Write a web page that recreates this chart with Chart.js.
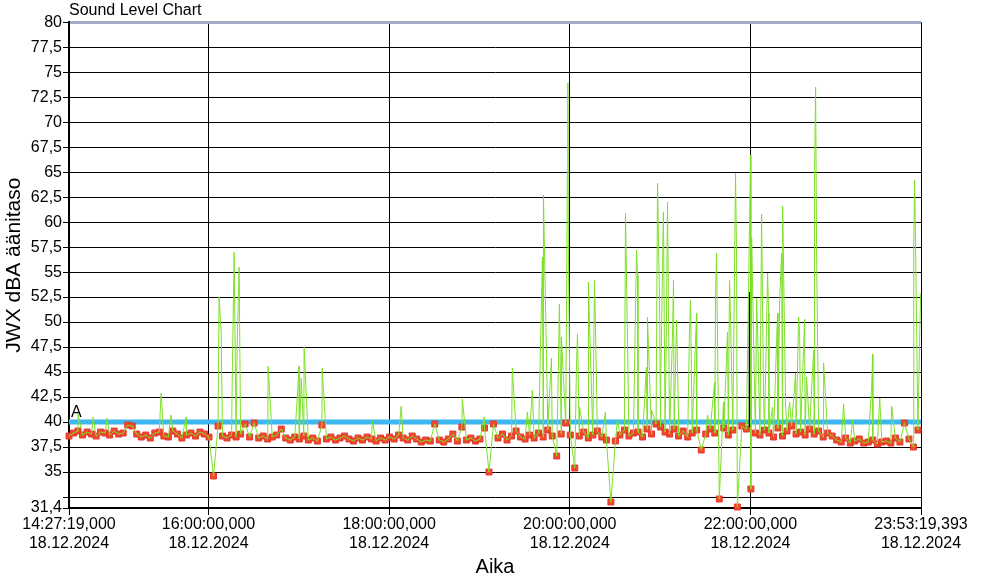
<!DOCTYPE html>
<html>
<head>
<meta charset="utf-8">
<script src="https://cdn.jsdelivr.net/npm/chart.js@4.4.1/dist/chart.umd.min.js"></script>
<style>
  html, body { margin: 0; padding: 0; background: #fff; }
  #wrap { width: 990px; height: 588px; }
</style>
</head>
<body>
<div id="wrap"><canvas id="sound-chart"></canvas></div>
<script>
const chart_title = "Sound Level Chart"
const y_title = "JWX dBA äänitaso"
const x_title = "Aika"

// x positions are minutes counted from 14:27:19,000
const x_tick_minutes = [0, 92.6833, 212.6833, 332.6833, 452.6833, 566.0066]
const x_tick_labels = [
  ["14:27:19,000", "18.12.2024"],
  ["16:00:00,000", "18.12.2024"],
  ["18:00:00,000", "18.12.2024"],
  ["20:00:00,000", "18.12.2024"],
  ["22:00:00,000", "18.12.2024"],
  ["23:53:19,393", "18.12.2024"]
]

const y_tick_values = [31.4, 32.5, 35, 37.5, 40, 42.5, 45, 47.5, 50, 52.5, 55, 57.5, 60, 62.5, 65, 67.5, 70, 72.5, 75, 77.5, 80]
const y_tick_labels = ["31,4", "", "35", "37,5", "40", "42,5", "45", "47,5", "50", "52,5", "55", "57,5", "60", "62,5", "65", "67,5", "70", "72,5", "75", "77,5", "80"]

const limit_level = 40
const limit_label = "A"

// red squares, one sample every 3 minutes
const sample_step = 3
const sample_levels = [
  38.6, 38.9, 39.1, 38.7, 39.0, 38.8, 38.6, 39.0, 38.9, 38.7,
  39.1, 38.8, 38.9, 39.7, 39.6, 38.8, 38.5, 38.7, 38.4, 38.9,
  39.0, 38.6, 38.5, 39.1, 38.8, 38.4, 38.7, 38.9, 38.6, 39.0,
  38.8, 38.5, 34.6, 39.6, 38.6, 38.4, 38.7, 38.5, 38.8, 39.8,
  38.5, 39.9, 38.4, 38.6, 38.3, 38.5, 38.7, 39.3, 38.4, 38.2,
  38.5, 38.3, 38.6, 38.2, 38.4, 38.1, 39.7, 38.3, 38.5, 38.2,
  38.4, 38.6, 38.3, 38.1, 38.4, 38.2, 38.5, 38.3, 38.1, 38.4,
  38.2, 38.5, 38.3, 38.7, 38.4, 38.2, 38.6, 38.3, 38.0, 38.2,
  38.1, 39.8, 38.2, 38.0, 38.3, 38.8, 38.1, 39.5, 38.2, 38.4,
  38.1, 38.3, 39.4, 35.0, 39.8, 38.4, 38.8, 38.2, 38.6, 39.1,
  38.5, 38.3, 38.7, 38.4, 38.9, 38.5, 39.2, 38.6, 36.6, 38.8,
  39.9, 38.7, 35.4, 38.6, 39.0, 38.4, 38.7, 39.1, 38.5, 38.2,
  32.0, 38.1, 38.7, 39.2, 38.6, 38.9, 39.0, 38.5, 39.3, 38.8,
  39.8, 39.5, 39.0, 38.8, 39.3, 38.6, 39.1, 38.5, 38.9, 39.2,
  37.2, 38.8, 39.3, 38.9, 32.3, 39.4, 38.7, 39.2, 31.5, 39.6,
  39.3, 33.3, 38.9, 38.7, 39.2, 38.9, 38.5, 39.4, 38.6, 39.1,
  39.6, 38.8, 39.0, 38.7, 39.3, 38.8, 39.1, 38.5, 38.9, 38.6,
  38.2, 38.0, 38.4, 37.9, 38.1, 38.3, 37.9, 38.0, 38.2, 37.8,
  38.0, 38.1, 37.9, 38.4, 38.0, 39.9, 38.3, 37.5, 39.2
]

// green trace peaks between the samples
const peak_minutes = [
  6.0, 16.0, 25.3, 61.2, 67.8, 77.8, 99.7, 101.1, 108.4, 109.7, 111.7, 113.0, 132.3,
  152.9, 154.3, 156.2, 168.2, 201.5, 220.7, 261.3, 275.9,
  294.5, 304.5, 307.8, 314.5, 315.2, 317.8, 320.5, 325.1, 325.8, 327.1,
  331.1, 331.4, 331.8, 337.1, 337.8, 339.1, 345.1, 345.7, 349.1, 349.7,
  356.4, 364.4, 369.7, 370.3, 377.0, 377.7, 383.6, 384.3, 387.0, 391.0,
  391.6, 392.3, 393.0, 394.3, 394.9, 396.9, 397.6, 400.9, 401.6, 403.6,
  404.9, 412.2, 412.9, 416.9, 424.2,
  428.9, 429.5, 430.2, 434.8, 437.5, 438.8, 439.5, 442.8, 443.5, 452.8,
  453.5, 456.8, 457.4, 460.1, 461.4, 464.1, 464.8, 467.4, 470.7, 472.1,
  473.4, 474.1, 476.1, 478.7, 482.7, 484.7, 485.4, 488.7, 490.0, 494.7,
  495.3, 496.0, 496.7, 501.3, 514.6, 520.6, 533.2, 533.9, 538.6, 546.5,
  561.2, 561.8, 565.2, 565.8
]
const peak_levels = [
  40.8, 40.5, 40.4, 42.9, 40.7, 40.5, 52.5, 48.9, 43.9, 57.0, 47.5, 55.5, 45.6,
  45.6, 44.4, 47.5, 45.4, 40.1, 41.6, 42.3, 40.5,
  45.4, 41.0, 43.2, 56.5, 62.7, 41.9, 46.4, 45.4, 51.8, 48.5,
  65.0, 73.9, 56.9, 45.4, 48.8, 41.5, 54.0, 50.2, 54.2, 50.0,
  41.0, 40.3, 60.9, 55.2, 57.2, 54.7, 45.5, 50.5, 41.2, 63.9,
  58.4, 52.2, 42.9, 55.5, 61.0, 49.9, 62.0, 48.5, 54.2, 50.2,
  40.7, 49.0, 52.2, 50.9, 40.7,
  44.0, 52.5, 56.9, 42.0, 49.0, 54.2, 50.2, 64.9, 56.5, 66.7,
  58.4, 52.4, 49.4, 60.8, 42.9, 54.9, 50.9, 41.5, 50.9, 52.2,
  56.9, 61.6, 41.5, 42.0, 44.9, 50.5, 48.5, 50.3, 44.5, 47.2,
  64.9, 73.5, 56.2, 45.9, 41.8, 40.2, 43.5, 46.8, 42.4, 41.6,
  57.7, 64.2, 49.2, 52.9
]

// dark event line just before 22:00
const event_minute = 452.0
const event_levels = [53.0, 39.5]

const font_family = "'Liberation Sans', Arial, sans-serif"

let sample_points = sample_levels.map((v, i) => ({x: i * sample_step, y: v}))
let peak_points = peak_minutes.map((m, i) => ({x: m, y: peak_levels[i]}))
let trace_points = sample_points.concat(peak_points).sort((a, b) => a.x - b.x)
let x_end = x_tick_minutes[x_tick_minutes.length - 1]

const limitLabel = {
  id: "limitLabel",
  afterDatasetsDraw(chart) {
    const {ctx, chartArea, scales} = chart
    ctx.save()
    ctx.font = "16px " + font_family
    ctx.fillStyle = "#000"
    ctx.textBaseline = "alphabetic"
    ctx.fillText(limit_label, chartArea.left + 2, scales.y.getPixelForValue(limit_level) - 5)
    ctx.restore()
  }
}

const sound_ctx = document.getElementById("sound-chart").getContext("2d")

let sound_chart = new Chart(sound_ctx, {
  type: "line",
  data: {
    datasets: [
      {
        label: "trace",
        data: trace_points,
        borderColor: "#7ee02a",
        borderWidth: 1,
        pointRadius: 0,
        tension: 0,
        order: 0
      },
      {
        label: "event",
        data: [{x: event_minute, y: event_levels[0]}, {x: event_minute, y: event_levels[1]}],
        borderColor: "#000",
        borderWidth: 1,
        pointRadius: 0,
        order: 1
      },
      {
        label: "samples",
        data: sample_points,
        showLine: false,
        pointStyle: "rect",
        pointRadius: 4.2,
        pointBackgroundColor: "#ee4a2c",
        pointBorderColor: "#e8352a",
        pointBorderWidth: 1,
        clip: false,
        order: 2
      },
      {
        label: "limit",
        data: [{x: 0, y: limit_level}, {x: x_end, y: limit_level}],
        borderColor: "#3db7ef",
        borderWidth: 5,
        pointRadius: 0,
        order: 3
      }
    ]
  },
  options: {
    animation: false,
    responsive: true,
    maintainAspectRatio: false,
    devicePixelRatio: 1,
    layout: {
      padding: {top: 0, left: 0, right: 69, bottom: 0}
    },
    plugins: {
      legend: {display: false},
      tooltip: {enabled: false},
      title: {
        display: true,
        text: chart_title,
        align: "start",
        fullSize: false,
        color: "#000",
        font: {family: font_family, size: 16, weight: "normal"},
        padding: {top: 1, bottom: 2}
      }
    },
    scales: {
      x: {
        type: "linear",
        min: 0,
        max: x_end,
        afterBuildTicks: s => { s.ticks = x_tick_minutes.map(v => ({value: v})) },
        afterFit: s => { s.height = 80 },
        ticks: {
          callback: (v, i) => x_tick_labels[i],
          autoSkip: false,
          maxRotation: 0,
          padding: 0,
          color: "#000",
          font: {family: font_family, size: 16, lineHeight: 1.2}
        },
        grid: {color: "#000", lineWidth: 1, tickLength: 7},
        border: {color: "#000", width: 2},
        title: {
          display: true,
          text: x_title,
          color: "#000",
          font: {family: font_family, size: 20},
          padding: {top: 0, bottom: 9}
        }
      },
      y: {
        type: "linear",
        min: y_tick_values[0],
        max: y_tick_values[y_tick_values.length - 1],
        afterBuildTicks: s => { s.ticks = y_tick_values.map(v => ({value: v})) },
        afterFit: s => { s.width = 69 },
        ticks: {
          callback: (v, i) => y_tick_labels[i],
          autoSkip: false,
          padding: 1,
          color: "#000",
          font: {family: font_family, size: 16}
        },
        grid: {
          color: c => (c.tick && c.tick.value === 80) ? "#a4acc6" : "#000",
          lineWidth: c => (c.tick && c.tick.value === 80) ? 3 : 1,
          tickLength: 6,
          tickColor: "#000",
          tickWidth: 1
        },
        border: {color: "#000", width: 2},
        title: {
          display: true,
          text: y_title,
          color: "#000",
          font: {family: font_family, size: 21},
          padding: {top: 2, bottom: 0}
        }
      }
    }
  },
  plugins: [limitLabel]
})
</script>
</body>
</html>
